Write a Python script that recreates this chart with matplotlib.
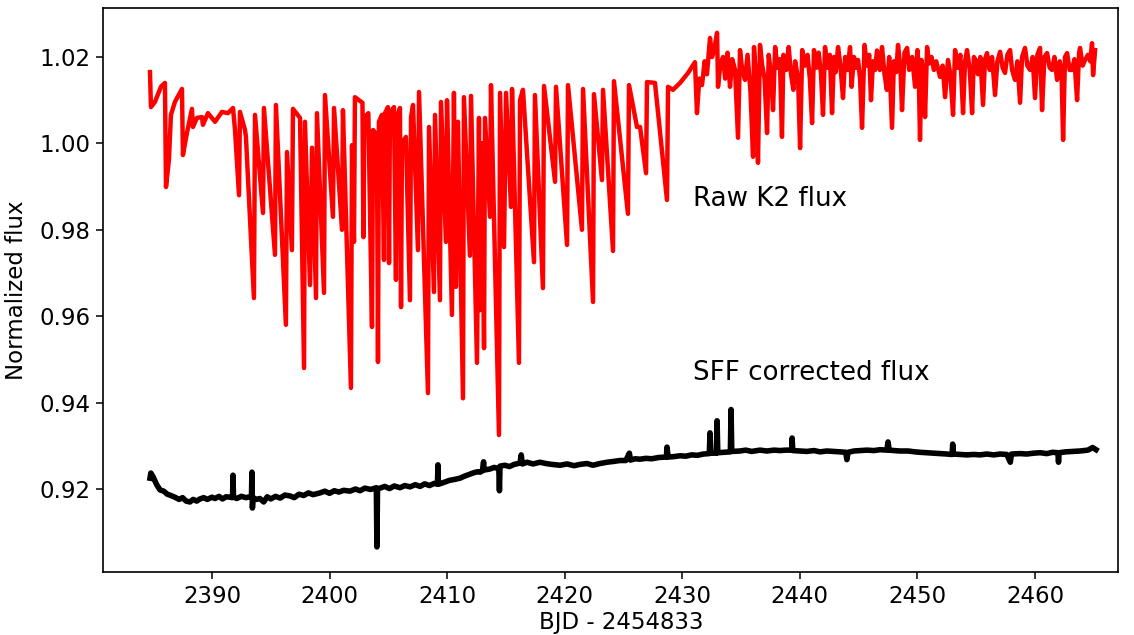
import matplotlib
matplotlib.use("Agg")
import matplotlib.pyplot as plt

# ---- Raw K2 flux (red) ----
raw_time = [
    2384.73, 2384.81, 2385.15, 2385.66, 2386.00, 2386.09, 2386.34, 2386.51, 2386.85, 2387.45,
    2387.53, 2387.87, 2388.30, 2388.38, 2388.72, 2389.15, 2389.23, 2389.66, 2390.26, 2390.85,
    2391.36, 2391.79, 2391.96, 2392.30, 2392.38, 2392.81, 2392.89, 2393.57, 2393.66, 2394.34,
    2394.42, 2395.36, 2395.44, 2396.29, 2396.38, 2396.80, 2396.89, 2397.49, 2397.83, 2397.91,
    2398.34, 2398.51, 2398.85, 2398.93, 2399.53, 2399.61, 2400.29, 2400.38, 2401.06, 2401.14,
    2401.82, 2401.91, 2402.08, 2402.16, 2402.80, 2402.88, 2402.96, 2403.30, 2403.61, 2403.70,
    2404.03, 2404.12, 2404.20, 2404.46, 2404.63, 2404.71, 2404.97, 2405.06, 2405.14, 2405.48,
    2405.65, 2405.73, 2405.99, 2406.08, 2406.16, 2406.50, 2406.84, 2406.93, 2407.10, 2407.52,
    2407.61, 2408.37, 2408.46, 2408.88, 2408.97, 2409.39, 2409.48, 2409.90, 2409.99, 2410.41,
    2410.58, 2410.75, 2410.92, 2411.35, 2411.43, 2411.94, 2412.03, 2412.54, 2412.71, 2412.80,
    2412.97, 2413.14, 2413.22, 2413.65, 2413.73, 2414.41, 2414.50, 2414.84, 2415.01, 2415.43,
    2415.52, 2416.11, 2416.20, 2416.45, 2417.39, 2417.47, 2418.15, 2418.24, 2419.18, 2419.26,
    2420.20, 2420.28, 2421.47, 2421.56, 2422.41, 2422.49, 2423.17, 2423.26, 2424.11, 2424.19,
    2425.38, 2425.47, 2426.15, 2426.41, 2426.92, 2427.00, 2427.68, 2428.70, 2428.79, 2429.21,
    2429.81, 2430.49, 2431.08, 2431.25, 2431.45, 2431.68, 2431.90, 2432.10, 2432.36, 2432.53,
    2432.70, 2432.96, 2433.04, 2433.25, 2433.47, 2433.65, 2433.85, 2434.06, 2434.25, 2434.49,
    2434.74, 2434.91, 2435.10, 2435.34, 2435.55, 2435.80, 2436.02, 2436.10, 2436.25, 2436.44,
    2436.61, 2436.80, 2437.00, 2437.21, 2437.35, 2437.55, 2437.72, 2437.90, 2438.10, 2438.30,
    2438.48, 2438.60, 2438.85, 2439.05, 2439.25, 2439.45, 2439.60, 2439.85, 2440.02, 2440.20,
    2440.44, 2440.65, 2440.85, 2441.04, 2441.20, 2441.40, 2441.60, 2441.80, 2441.97, 2442.14,
    2442.35, 2442.55, 2442.74, 2442.90, 2443.05, 2443.25, 2443.45, 2443.67, 2443.85, 2444.05,
    2444.27, 2444.40, 2444.60, 2444.80, 2444.95, 2445.12, 2445.29, 2445.50, 2445.71, 2445.90,
    2446.05, 2446.22, 2446.40, 2446.56, 2446.80, 2446.99, 2447.20, 2447.40, 2447.60, 2447.84,
    2448.00, 2448.20, 2448.35, 2448.55, 2448.69, 2448.90, 2449.12, 2449.30, 2449.55, 2449.80,
    2450.00, 2450.10, 2450.22, 2450.35, 2450.56, 2450.65, 2450.82, 2451.00, 2451.20, 2451.40,
    2451.60, 2451.92, 2452.15, 2452.35, 2452.60, 2452.80, 2453.03, 2453.20, 2453.45, 2453.65,
    2453.88, 2454.05, 2454.22, 2454.45, 2454.65, 2454.80, 2454.95, 2455.15, 2455.35, 2455.58,
    2455.75, 2455.92, 2456.15, 2456.35, 2456.60, 2456.80, 2457.03, 2457.25, 2457.45, 2457.65,
    2457.88, 2458.05, 2458.30, 2458.50, 2458.73, 2458.90, 2459.15, 2459.35, 2459.58, 2459.80,
    2460.00, 2460.20, 2460.43, 2460.60, 2460.80, 2461.03, 2461.25, 2461.45, 2461.65, 2461.88,
    2462.10, 2462.25, 2462.39, 2462.55, 2462.73, 2462.95, 2463.15, 2463.35, 2463.58, 2463.75,
    2463.83, 2464.05, 2464.26, 2464.50, 2464.70, 2464.85, 2464.94, 2465.11,
]
raw_flux = [
    1.0165, 1.0084, 1.0096, 1.0131, 1.0140, 0.9899, 0.9962, 1.0066, 1.0096, 1.0126,
    0.9973, 1.0024, 1.0080, 1.0038, 1.0059, 1.0061, 1.0043, 1.0070, 1.0050, 1.0073,
    1.0070, 1.0082, 1.0031, 0.9880, 1.0073, 1.0031, 1.0015, 0.9642, 1.0066, 0.9839,
    1.0082, 0.9742, 1.0089, 0.9580, 0.9980, 0.9753, 1.0080, 1.0059, 0.9480, 1.0050,
    0.9672, 0.9990, 0.9642, 1.0070, 0.9654, 1.0112, 0.9830, 1.0082, 0.9800, 1.0077,
    0.9434, 0.9996, 0.9772, 1.0107, 1.0094, 0.9783, 1.0060, 1.0070, 0.9575, 1.0031,
    1.0020, 0.9494, 1.0050, 1.0066, 0.9730, 1.0070, 1.0084, 0.9723, 1.0070, 1.0084,
    0.9684, 1.0060, 1.0082, 0.9621, 1.0000, 1.0015, 0.9637, 1.0060, 1.0089, 0.9753,
    1.0119, 0.9422, 1.0038, 0.9656, 1.0066, 0.9637, 1.0096, 0.9772, 1.0100, 0.9603,
    1.0117, 0.9668, 1.0050, 0.9410, 1.0107, 0.9740, 1.0110, 0.9492, 1.0059, 0.9614,
    1.0000, 0.9526, 1.0059, 0.9830, 1.0135, 0.9325, 1.0117, 0.9760, 1.0117, 0.9853,
    1.0126, 0.9492, 1.0100, 1.0124, 0.9725, 1.0112, 0.9665, 1.0133, 0.9911, 1.0131,
    0.9765, 1.0135, 0.9800, 1.0126, 0.9633, 1.0114, 0.9915, 1.0124, 0.9751, 1.0144,
    0.9837, 1.0135, 1.0038, 1.0038, 0.9931, 1.0142, 1.0140, 0.9869, 1.0131, 1.0124,
    1.0140, 1.0163, 1.0188, 1.0070, 1.0150, 1.0135, 1.0190, 1.0160, 1.0244, 1.0200,
    1.0215, 1.0256, 1.0131, 1.0185, 1.0200, 1.0150, 1.0210, 1.0131, 1.0195, 1.0170,
    1.0013, 1.0216, 1.0170, 1.0147, 1.0205, 1.0120, 0.9969, 1.0223, 1.0160, 0.9955,
    1.0228, 1.0180, 1.0150, 1.0024, 1.0205, 1.0160, 1.0077, 1.0223, 1.0175, 1.0195,
    1.0015, 1.0205, 1.0170, 1.0223, 1.0160, 1.0124, 1.0190, 1.0150, 0.9989, 1.0216,
    1.0180, 1.0205, 1.0150, 1.0047, 1.0216, 1.0175, 1.0210, 1.0160, 1.0066, 1.0223,
    1.0175, 1.0205, 1.0070, 1.0200, 1.0165, 1.0223, 1.0180, 1.0105, 1.0200, 1.0170,
    1.0223, 1.0131, 1.0200, 1.0175, 1.0193, 1.0150, 1.0036, 1.0228, 1.0180, 1.0205,
    1.0100, 1.0190, 1.0170, 1.0215, 1.0170, 1.0223, 1.0160, 1.0124, 1.0200, 1.0036,
    1.0190, 1.0165, 1.0228, 1.0175, 1.0077, 1.0210, 1.0221, 1.0170, 1.0200, 1.0131,
    1.0216, 1.0180, 1.0008, 1.0193, 1.0150, 1.0061, 1.0223, 1.0185, 1.0200, 1.0170,
    1.0190, 1.0154, 1.0180, 1.0107, 1.0193, 1.0160, 1.0066, 1.0216, 1.0175, 1.0205,
    1.0070, 1.0190, 1.0216, 1.0170, 1.0070, 1.0200, 1.0193, 1.0160, 1.0200, 1.0089,
    1.0195, 1.0209, 1.0170, 1.0200, 1.0112, 1.0190, 1.0212, 1.0175, 1.0163, 1.0205,
    1.0216, 1.0170, 1.0147, 1.0190, 1.0094, 1.0200, 1.0221, 1.0180, 1.0170, 1.0200,
    1.0105, 1.0205, 1.0221, 1.0077, 1.0200, 1.0209, 1.0175, 1.0170, 1.0200, 1.0147,
    1.0190, 1.0170, 1.0008, 1.0200, 1.0209, 1.0170, 1.0170, 1.0195, 1.0100, 1.0210,
    1.0221, 1.0180, 1.0193, 1.0205, 1.0190, 1.0232, 1.0158, 1.0216,
]

# ---- SFF corrected flux (black) ----
sff_time = [
    2384.73, 2384.80, 2385.00, 2385.30, 2385.58, 2385.90, 2386.20, 2386.50, 2386.85, 2387.20,
    2387.50, 2387.80, 2388.13, 2388.40, 2388.70, 2388.98, 2389.30, 2389.60, 2390.00, 2390.26,
    2390.60, 2390.90, 2391.20, 2391.53, 2391.75, 2391.79, 2391.83, 2392.10, 2392.50, 2392.90,
    2393.36, 2393.40, 2393.44, 2393.50, 2393.80, 2394.08, 2394.40, 2394.70, 2395.00, 2395.40,
    2395.80, 2396.20, 2396.63, 2397.00, 2397.40, 2397.80, 2398.20, 2398.60, 2399.19, 2399.60,
    2400.00, 2400.40, 2400.80, 2401.20, 2401.74, 2402.20, 2402.60, 2403.00, 2403.50, 2403.98,
    2404.03, 2404.08, 2404.29, 2404.70, 2405.10, 2405.50, 2406.00, 2406.40, 2406.84, 2407.30,
    2407.70, 2408.10, 2408.50, 2408.90, 2409.18, 2409.22, 2409.26, 2409.39, 2409.80, 2410.20,
    2410.60, 2411.09, 2411.50, 2411.90, 2412.30, 2412.60, 2412.80, 2413.00, 2413.10, 2413.15,
    2413.60, 2414.00, 2414.40, 2414.45, 2414.50, 2414.90, 2415.30, 2415.70, 2416.20, 2416.30,
    2416.40, 2416.80, 2417.30, 2417.90, 2418.40, 2418.90, 2419.60, 2420.20, 2420.80, 2421.30,
    2421.90, 2422.40, 2423.00, 2423.60, 2424.20, 2424.70, 2425.20, 2425.50, 2425.60, 2426.00,
    2426.40, 2426.90, 2427.40, 2428.00, 2428.65, 2428.70, 2428.80, 2429.30, 2429.81, 2430.30,
    2430.80, 2431.30, 2431.80, 2432.30, 2432.36, 2432.42, 2432.90, 2432.96, 2433.02, 2433.60,
    2434.09, 2434.15, 2434.21, 2434.91, 2435.40, 2435.90, 2436.61, 2437.20, 2437.80, 2438.31,
    2438.80, 2439.30, 2439.34, 2439.40, 2440.01, 2440.60, 2441.20, 2441.72, 2442.30, 2442.90,
    2443.42, 2443.90, 2444.00, 2444.10, 2444.60, 2445.12, 2445.70, 2446.30, 2446.82, 2447.40,
    2447.50, 2447.60, 2448.00, 2448.52, 2449.20, 2449.80, 2450.22, 2450.80, 2451.40, 2451.92,
    2452.50, 2452.95, 2453.00, 2453.05, 2453.62, 2454.20, 2454.80, 2455.33, 2455.90, 2456.50,
    2457.03, 2457.60, 2457.90, 2458.00, 2458.73, 2459.30, 2459.90, 2460.43, 2461.00, 2461.50,
    2461.95, 2462.00, 2462.05, 2462.60, 2463.20, 2463.83, 2464.50, 2464.90, 2465.19,
]
sff_flux = [
    0.9225, 0.9237, 0.9228, 0.9210, 0.9198, 0.9195, 0.9188, 0.9185, 0.9181, 0.9176,
    0.9180, 0.9172, 0.9170, 0.9176, 0.9172, 0.9177, 0.9180, 0.9176, 0.9181, 0.9178,
    0.9183, 0.9177, 0.9182, 0.9181, 0.9180, 0.9232, 0.9182, 0.9178, 0.9183, 0.9180,
    0.9183, 0.9239, 0.9156, 0.9180, 0.9176, 0.9178, 0.9170, 0.9182, 0.9177, 0.9183,
    0.9179, 0.9186, 0.9184, 0.9180, 0.9188, 0.9185, 0.9191, 0.9187, 0.9191, 0.9195,
    0.9190, 0.9196, 0.9193, 0.9197, 0.9195, 0.9200, 0.9196, 0.9202, 0.9199, 0.9203,
    0.9066, 0.9200, 0.9202, 0.9206, 0.9201, 0.9207, 0.9203, 0.9208, 0.9205, 0.9210,
    0.9206, 0.9212, 0.9208, 0.9213, 0.9211, 0.9256, 0.9212, 0.9212, 0.9216, 0.9220,
    0.9222, 0.9225, 0.9230, 0.9234, 0.9238, 0.9240, 0.9239, 0.9242, 0.9263, 0.9244,
    0.9246, 0.9250, 0.9247, 0.9196, 0.9253, 0.9255, 0.9252, 0.9257, 0.9260, 0.9279,
    0.9258, 0.9262, 0.9258, 0.9262, 0.9259, 0.9257, 0.9255, 0.9258, 0.9254, 0.9257,
    0.9259, 0.9255, 0.9259, 0.9262, 0.9264, 0.9266, 0.9266, 0.9283, 0.9267, 0.9270,
    0.9269, 0.9271, 0.9270, 0.9273, 0.9274, 0.9297, 0.9274, 0.9275, 0.9277, 0.9276,
    0.9279, 0.9278, 0.9281, 0.9282, 0.9330, 0.9283, 0.9283, 0.9358, 0.9284, 0.9285,
    0.9286, 0.9384, 0.9287, 0.9288, 0.9290, 0.9287, 0.9290, 0.9288, 0.9290, 0.9289,
    0.9290, 0.9290, 0.9318, 0.9289, 0.9288, 0.9287, 0.9289, 0.9286, 0.9288, 0.9287,
    0.9286, 0.9285, 0.9268, 0.9285, 0.9288, 0.9289, 0.9290, 0.9289, 0.9291, 0.9290,
    0.9309, 0.9290, 0.9289, 0.9288, 0.9288, 0.9286, 0.9285, 0.9284, 0.9283, 0.9282,
    0.9281, 0.9280, 0.9304, 0.9281, 0.9280, 0.9279, 0.9280, 0.9279, 0.9281, 0.9279,
    0.9281, 0.9280, 0.9262, 0.9281, 0.9282, 0.9281, 0.9283, 0.9284, 0.9282, 0.9285,
    0.9284, 0.9262, 0.9284, 0.9286, 0.9287, 0.9288, 0.9290, 0.9296, 0.9291,
]

x_ticks = [2390, 2400, 2410, 2420, 2430, 2440, 2450, 2460]
y_ticks = [0.92, 0.94, 0.96, 0.98, 1.00, 1.02]
label_raw = "Raw K2 flux"
label_sff = "SFF corrected flux"

fig = plt.figure(figsize=(11.34, 6.35), dpi=100)
ax = fig.add_axes([0.0908, 0.0992, 0.8951, 0.8882])

ax.plot(raw_time, raw_flux, color="red", lw=3.2, solid_joinstyle="round")
ax.plot(sff_time, sff_flux, color="black", lw=4.0, solid_joinstyle="round")

ax.text(2430.9, 0.9871, label_raw, fontsize=18.8, va="center", ha="left")
ax.text(2430.9, 0.9469, label_sff, fontsize=18.8, va="center", ha="left")

ax.set_xlim(2380.73, 2467.06)
ax.set_ylim(0.90079, 1.03134)
ax.set_xticks(x_ticks)
ax.set_yticks(y_ticks)
ax.set_yticklabels([f"{v:.2f}" for v in y_ticks])
ax.tick_params(labelsize=16.5, length=5, width=1.1, pad=4)
for s in ax.spines.values():
    s.set_linewidth(1.2)
ax.set_xlabel("BJD - 2454833", fontsize=16.5, va="top")
ax.xaxis.set_label_coords(0.511, -0.069)
ax.set_ylabel("Normalized flux", fontsize=16.5, labelpad=8)

fig.savefig("out.png", dpi=100)
